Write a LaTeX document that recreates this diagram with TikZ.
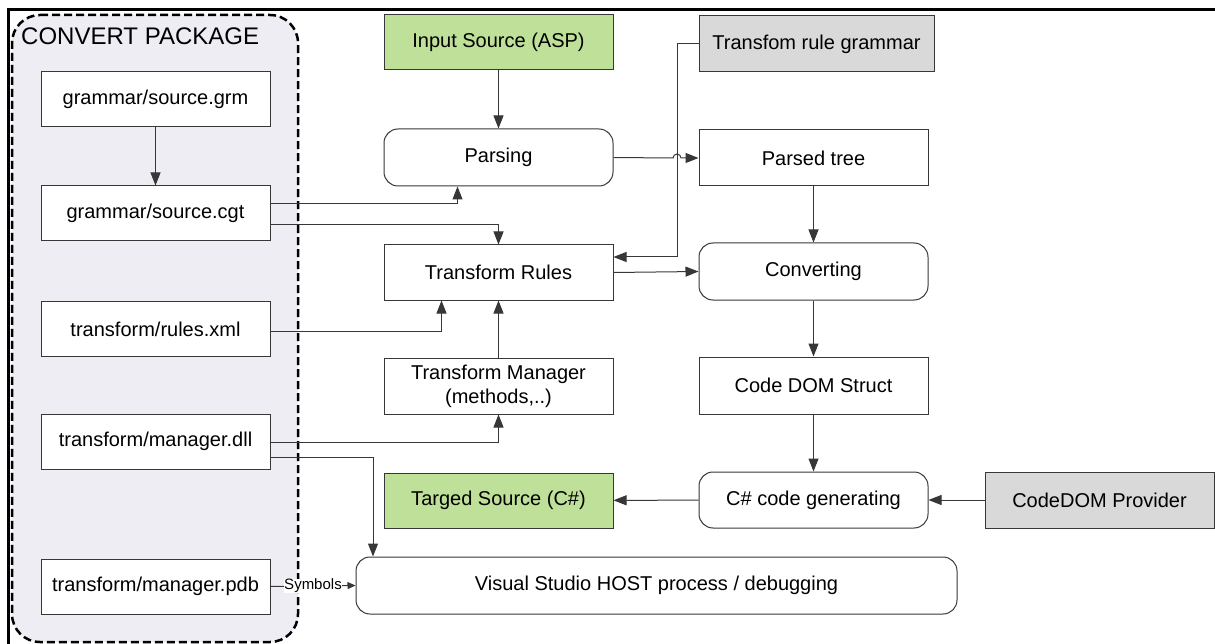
\documentclass[tikz,border=0pt]{standalone}
\usepackage{fontspec}
\setmainfont{Liberation Sans}
\usetikzlibrary{arrows.meta}
\definecolor{grn}{RGB}{191,224,152}
\definecolor{gry}{RGB}{217,217,217}
\definecolor{pkg}{RGB}{239,237,244}
\definecolor{edge}{RGB}{55,55,55}
\begin{document}
\begin{tikzpicture}[x=1pt,y=-1pt,
  font=\fontsize{20}{24}\selectfont,
  box/.style={draw=edge, line width=1pt, fill=white, minimum width=229pt, minimum height=55pt, inner sep=0pt, align=center},
  rbox/.style={box, rounded corners=14pt},
  greenbox/.style={box, fill=grn},
  graybox/.style={box, fill=gry},
  conn/.style={draw=edge, line width=1pt, -{Triangle[length=13pt,width=10pt]}},
  plain/.style={draw=edge, line width=1pt}]
\useasboundingbox (0,0) rectangle (1215,644);
% outer frame
\draw[line width=3pt] (1216,10) -- (8,10) -- (8,645);
% package container
\draw[pkg, fill=pkg] (12,15) [rounded corners=28pt] -- (298,15) -- (298,642) -- (12,642) -- cycle;
\draw[line width=2.5pt, dash pattern=on 8pt off 4pt, rounded corners=28pt] (12,15) -- (298,15) -- (298,642) -- (12,642) -- cycle;
\node[anchor=base west, font=\fontsize{24}{28}\selectfont, inner sep=0pt] (title) at (21,45) {CONVERT PACKAGE};
% left column
\node[box] (grm) at (155.5,99.5) {grammar/source.grm};
\node[box] (cgt) at (155.5,213.5) {grammar/source.cgt};
\node[box] (rules) at (155.5,329) {transform/rules.xml};
\node[box] (dll) at (155.5,441.5) {transform/manager.dll};
\node[box] (pdb) at (155.5,586.5) {transform/manager.pdb};
% center column
\node[greenbox] (inp) at (498.5,42.5) {Input Source (ASP)};
\node[rbox, minimum height=57pt] (pars) at (498.5,157.5) {Parsing};
\node[box] (tr) at (498.5,272.5) {Transform Rules};
\node[box, minimum height=56pt] (tm) at (498.5,386) {Transform Manager\\(methods,..)};
\node[greenbox] (tgt) at (498.5,500.5) {Targed Source (C\#)};
% right column
\node[graybox, minimum width=235pt, minimum height=56pt] (trg) at (816.5,44) {Transfom rule grammar};
\node[box, minimum height=56pt] (pt) at (813.5,158) {Parsed tree};
\node[rbox, minimum height=57pt] (conv) at (813.5,271.5) {Converting};
\node[box, minimum height=57pt] (cds) at (813.5,385.5) {Code DOM Struct};
\node[rbox, minimum height=56pt] (gen) at (813.5,500) {C\# code generating};
\node[graybox, minimum height=56pt] (prov) at (1099.5,500) {CodeDOM Provider};
% VS host
\node[rbox, minimum width=601pt, minimum height=57pt] (vs) at (656.5,585.5) {Visual Studio HOST process / debugging};
% connectors
\draw[conn] (grm) -- (cgt);
\draw[conn] (cgt.east |- 0,204) -- (457.5,204) -- (pars.south -| 457.5,0);
\draw[conn] (cgt.east |- 0,225) -- (498.5,225) -- (tr.north);
\draw[conn] (rules.east |- 0,331.5) -- (441.5,331.5) -- (tr.south -| 441.5,0);
\draw[conn] (tm) -- (tr);
\draw[conn] (dll.east |- 0,442.5) -- (498.5,442.5) -- (tm.south);
\draw[conn] (dll.east |- 0,457) -- (373,457) -- (vs.north -| 373,0);
\draw[draw=edge, line width=1pt, -{Triangle[length=8pt,width=7pt]}] (pdb.east) -- node[fill=white, inner sep=0.5pt, font=\fontsize{15}{17}\selectfont] (sym) {Symbols} (vs.west);
\draw[conn] (inp) -- (pars);
\draw[conn] (pars.east) -- (673,158) arc[start angle=180, end angle=0, radius=4pt] -- (pt.west);
\draw[conn] (trg.west) -- (677,44) -- (677,257) -- (tr.east |- 0,257);
\draw[conn] (tr.east) -- (conv.west);
\draw[conn] (pt) -- (conv);
\draw[conn] (conv) -- (cds);
\draw[conn] (cds) -- (gen);
\draw[conn] (prov) -- (gen);
\draw[conn] (gen) -- (tgt);
\end{tikzpicture}
\end{document}
